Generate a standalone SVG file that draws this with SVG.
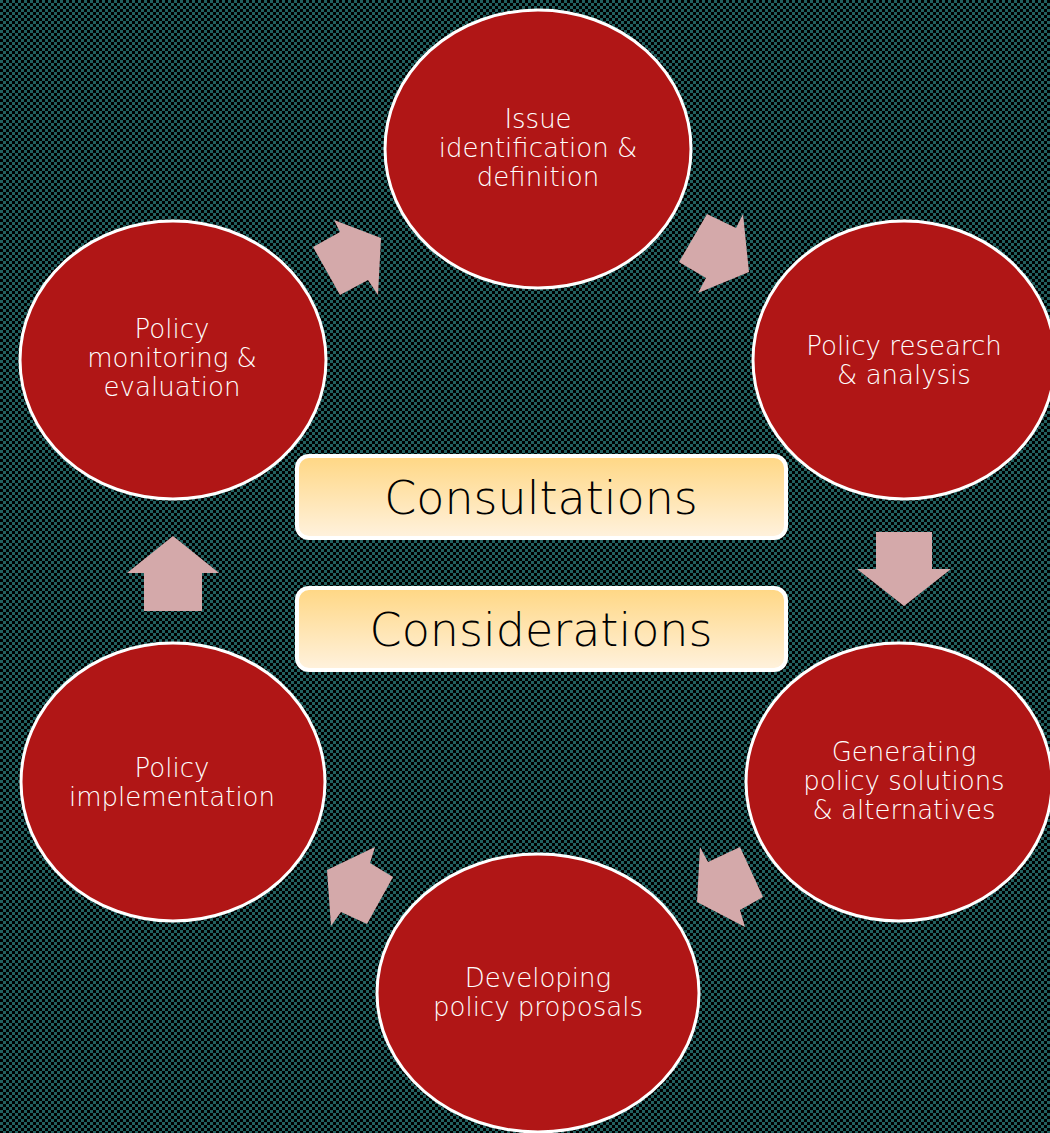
<svg xmlns="http://www.w3.org/2000/svg" width="1050" height="1133" viewBox="0 0 1050 1133">
<defs>
<pattern id="bg" width="6" height="6" patternUnits="userSpaceOnUse">
<rect width="6" height="6" fill="#000"/>
<rect x="0" y="0" width="3" height="3" fill="#22605f"/>
<rect x="3" y="3" width="3" height="3" fill="#22605f"/>
</pattern>
<linearGradient id="boxg" x1="0" y1="0" x2="0" y2="1">
<stop offset="0" stop-color="#ffd784"/>
<stop offset="1" stop-color="#fff2de"/>
</linearGradient>
<style>
.node{fill:#b01616;stroke:#fff;stroke-width:3}
.lbl{font-family:"DejaVu Sans","Liberation Sans",sans-serif;font-weight:200;font-size:26px;fill:#fff;text-anchor:middle}
.arrow{fill:#d4a9aa}
.box{fill:url(#boxg);stroke:#fff;stroke-width:4}
.btxt{font-family:"DejaVu Sans","Liberation Sans",sans-serif;font-weight:200;font-size:46px;fill:#000;text-anchor:middle}
</style>
</defs>
<rect width="1050" height="1133" fill="url(#bg)"/>
<g id="connectors">
<polygon class="arrow" points="313,247 340,232 334,220 381,238 378,295 368,280 340,295"/>
<polygon class="arrow" points="707,214 736,228 743,214 749,272 698,293 706,278 679,262"/>
<polygon class="arrow" points="876,532 932,532 932,569 951,569 904,606 857,569 876,569"/>
<polygon class="arrow" points="700,847 708,862 740,847 763,897 740,910 745,927 697,902"/>
<polygon class="arrow" points="375,847 370,863 393,877 367,924 341,912 331,926 327,870"/>
<polygon class="arrow" points="173,536 219,573 202,573 202,611 144,611 144,573 127,573"/>
</g>
<g id="node-issue">
<ellipse class="node" cx="538" cy="149" rx="153" ry="139"/>
<text class="lbl" x="538" y="128">Issue</text>
<text class="lbl" x="538" y="157">identification &amp;</text>
<text class="lbl" x="538" y="186">definition</text>
</g>
<g id="node-research">
<ellipse class="node" cx="904" cy="360" rx="151" ry="139"/>
<text class="lbl" x="904" y="355">Policy research</text>
<text class="lbl" x="904" y="384">&amp; analysis</text>
</g>
<g id="node-generating">
<ellipse class="node" cx="899" cy="782" rx="153" ry="139"/>
<text class="lbl" x="904" y="761">Generating</text>
<text class="lbl" x="904" y="790">policy solutions</text>
<text class="lbl" x="904" y="819">&amp; alternatives</text>
</g>
<g id="node-developing">
<ellipse class="node" cx="538" cy="993" rx="161" ry="139"/>
<text class="lbl" x="538" y="987">Developing</text>
<text class="lbl" x="538" y="1016">policy proposals</text>
</g>
<g id="node-implementation">
<ellipse class="node" cx="173" cy="782" rx="152" ry="139"/>
<text class="lbl" x="172" y="777">Policy</text>
<text class="lbl" x="172" y="806">implementation</text>
</g>
<g id="node-monitoring">
<ellipse class="node" cx="173" cy="360" rx="153" ry="139"/>
<text class="lbl" x="172" y="338">Policy</text>
<text class="lbl" x="172" y="367">monitoring &amp;</text>
<text class="lbl" x="172" y="396">evaluation</text>
</g>
<g id="box-consultations">
<rect class="box" x="297" y="456" width="489" height="82" rx="12"/>
<text class="btxt" x="541" y="514">Consultations</text>
</g>
<g id="box-considerations">
<rect class="box" x="297" y="588" width="489" height="82" rx="12"/>
<text class="btxt" x="541" y="646">Considerations</text>
</g>
</svg>
